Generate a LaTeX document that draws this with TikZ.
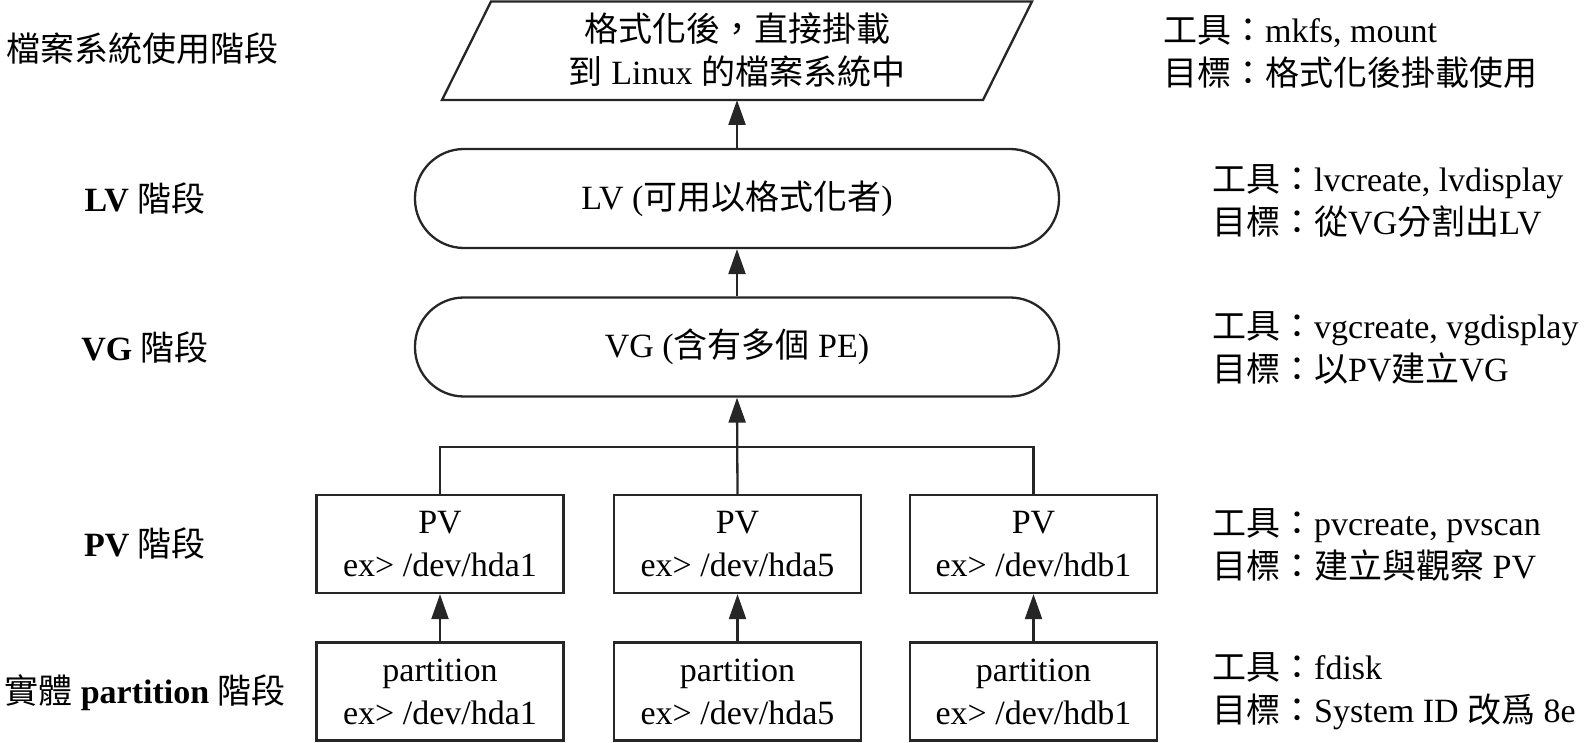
\documentclass[tikz,border=0pt]{standalone}
\usepackage{fontspec}
\setmainfont{Liberation Serif}
\newfontfamily\zhfont{Noto Sans CJK TC}
\newcommand\zh[1]{{\zhfont #1}}
\usetikzlibrary{arrows.meta}
\begin{document}
\begin{tikzpicture}[x=1pt,y=-1pt,
  every node/.style={font=\fontsize{34}{43}\selectfont, text=black, inner sep=0pt},
  line/.style={line width=2.3pt, draw=black!85},
  stadium/.style={line, rounded corners=49pt, minimum width=644pt, minimum height=99pt},
  boxnode/.style={line, minimum width=247pt, minimum height=98pt, align=center},
  stage/.style={anchor=center, align=center},
  info/.style={anchor=west, align=left},
  arr/.style={line, -{Triangle[length=25pt,width=17pt]}}]
\useasboundingbox (0,0) rectangle (1588,743);

% top parallelogram
\draw[line] (442,100) -- (491,1.5) -- (1032,1.5) -- (983,100) -- cycle;
\node[align=center] (fs) at (737,50) {\zh{格式化後，直接掛載}\\\zh{到} Linux \zh{的檔案系統中}};
\coordinate (fsb) at (737,100);

\node[stadium] (lv) at (737,198.5) {LV (\zh{可用以格式化者})};
\node[stadium] (vg) at (737,347) {VG (\zh{含有多個} PE)};

\node[boxnode] (pv1) at (440,544) {PV\\ex> /dev/hda1};
\node[boxnode] (pv2) at (737.5,544) {PV\\ex> /dev/hda5};
\node[boxnode] (pv3) at (1033.5,544) {PV\\ex> /dev/hdb1};

\node[boxnode] (pt1) at (440,691.5) {partition\\ex> /dev/hda1};
\node[boxnode] (pt2) at (737.5,691.5) {partition\\ex> /dev/hda5};
\node[boxnode] (pt3) at (1033.5,691.5) {partition\\ex> /dev/hdb1};

% connectors
\draw[arr] (lv.north) -- (fsb);
\draw[arr] (vg.north) -- (lv.south);
\coordinate (bus) at (737.5,447);
\draw[line] (pv1.north) |- (bus) -| (pv3.north);
\draw[arr] (pv2.north) -- (vg.south);
\draw[arr] (pt1.north) -- (pv1.south);
\draw[arr] (pt2.north) -- (pv2.south);
\draw[arr] (pt3.north) -- (pv3.south);

% stage labels
\node[stage] (s1) at (142,49) {\zh{檔案系統使用階段}};
\node[stage] (s2) at (145,199) {\textbf{LV} \zh{階段}};
\node[stage] (s3) at (145,348) {\textbf{VG} \zh{階段}};
\node[stage] (s4) at (145,544) {\textbf{PV} \zh{階段}};
\node[stage] (s5) at (145,693) {\zh{實體} \textbf{partition} \zh{階段}};

% info labels
\node[info] (i1) at (1163,52) {\zh{工具：}mkfs, mount\\\zh{目標：格式化後掛載使用}};
\node[info] (i2) at (1212,201) {\zh{工具：}lvcreate, lvdisplay\\\zh{目標：從}VG\zh{分割出}LV};
\node[info] (i3) at (1212,348) {\zh{工具：}vgcreate, vgdisplay\\\zh{目標：以}PV\zh{建立}VG};
\node[info] (i4) at (1212,545) {\zh{工具：}pvcreate, pvscan\\\zh{目標：建立與觀察} PV};
\node[info] (i5) at (1212,691) {\zh{工具：}fdisk\\\zh{目標：}System ID \zh{改爲} 8e};
\end{tikzpicture}
\end{document}
